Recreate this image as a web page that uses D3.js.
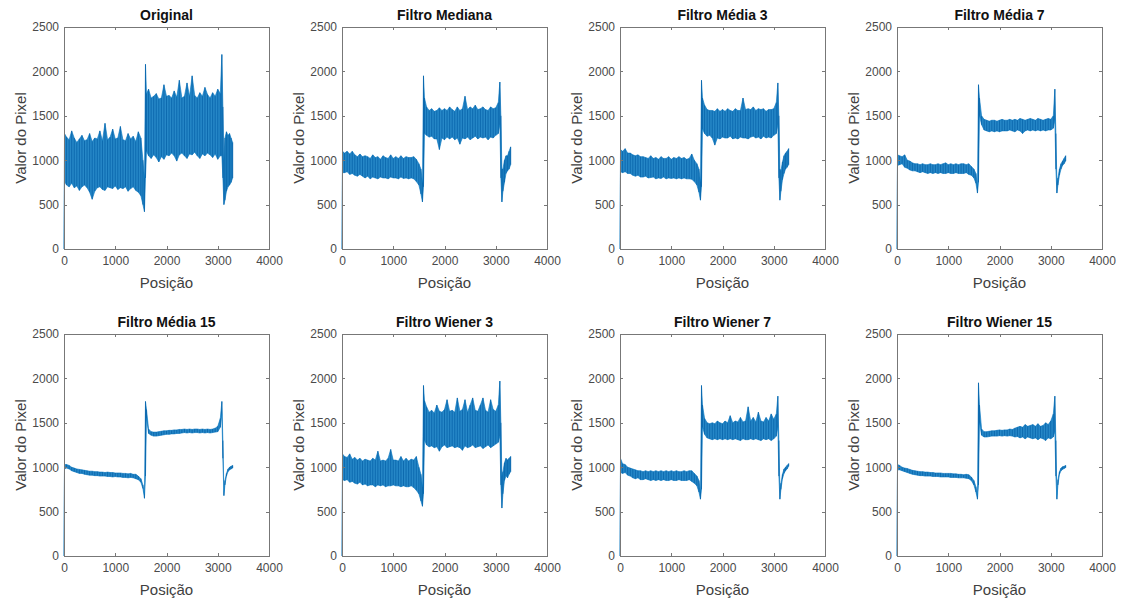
<!doctype html>
<html lang="pt">
<head>
  <meta charset="utf-8">
  <title>Filtros - Valor do Pixel</title>
  <script src="https://d3js.org/d3.v7.min.js"></script>
</head>

<style>

	body {
		margin: 0;
		background: white;
		font-family: "Liberation Sans", Arial, sans-serif;
	}

	.axis path, .axis line {
		stroke: #777;
		shape-rendering: crispEdges;
	}

	.axis text {
		fill: #4a4a4a;
		font-size: 12px;
		font-family: "Liberation Sans", Arial, sans-serif;
	}

</style>

<body>

	<svg id="chart" width="1133" height="604"></svg>

	<script>

		// posições de amostragem (eixo x), compartilhadas por todos os painéis
		var posicoes = [0, 10,
			50, 100, 150, 200, 250, 300, 350, 400, 450, 500,
			550, 600, 650, 700, 750, 800, 850, 900, 950, 1000,
			1050, 1100, 1150, 1200, 1250, 1300, 1350, 1400, 1450, 1500,
			1540, 1570, 1590, 1610,
			1650, 1700, 1750, 1800, 1850, 1900, 1950, 2000, 2050, 2100,
			2150, 2200, 2250, 2300, 2350, 2400, 2450, 2500, 2550, 2600,
			2650, 2700, 2750, 2800, 2850, 2900, 2950, 3000, 3050,
			3080, 3100, 3120, 3140, 3170, 3200, 3230, 3260, 3290];

		var titulos = ['Original', 'Filtro Mediana', 'Filtro Média 3', 'Filtro Média 7',
			'Filtro Média 15', 'Filtro Wiener 3', 'Filtro Wiener 7', 'Filtro Wiener 15'];

		var xTicks = [0, 1000, 2000, 3000, 4000];
		var yTicks = [0, 500, 1000, 1500, 2000, 2500];

		// envelope (mínimo / máximo) lido em cada posição
		var origLo = [0, 760,
			720, 700, 740, 690, 710, 660, 700, 720, 690, 640,
			560, 650, 690, 700, 670, 660, 700, 690, 680, 710,
			670, 690, 680, 700, 650, 680, 700, 660, 640, 600,
			500, 420, 800, 1100,
			1050, 1020, 1060, 1030, 980, 1040, 1010, 1060, 1050, 1080,
			1050, 990, 1060, 1080, 1050, 1020, 1070, 1060, 1090, 1050,
			1020, 1070, 1050, 1080, 1060, 1030, 1070, 1010, 1050,
			1050, 800, 500, 550, 650, 700, 720, 750, 800];
		var origHi = [0, 1300,
			1260, 1230, 1330, 1250, 1200, 1240, 1280, 1220, 1230, 1300,
			1210, 1250, 1240, 1330, 1220, 1415, 1230, 1260, 1350, 1240,
			1250, 1380, 1230, 1220, 1300, 1240, 1270, 1210, 1320, 1250,
			1000, 800, 2080, 1750,
			1800, 1700, 1720, 1750, 1690, 1700, 1850, 1720, 1730, 1700,
			1780, 1710, 1900, 1700, 1720, 1870, 1720, 1950, 1730, 1700,
			1760, 1720, 1820, 1740, 1700, 1760, 1720, 1800, 1750,
			2190, 1600, 1000, 1250, 1320, 1280, 1300, 1250, 1200];

		var medLo = [0, 860,
			860, 870, 840, 850, 830, 820, 840, 820, 800, 820,
			790, 810, 800, 790, 810, 800, 800, 790, 810, 800,
			800, 790, 810, 795, 800, 790, 800, 790, 760, 720,
			620, 530, 700, 1300,
			1280, 1260, 1270, 1240, 1240, 1120, 1250, 1230, 1260, 1240,
			1260, 1230, 1250, 1180, 1250, 1240, 1260, 1230, 1250, 1270,
			1240, 1260, 1250, 1260, 1230, 1260, 1250, 1280, 1300,
			1400, 800, 530, 650, 750, 850, 880, 900, 950];
		var medHi = [0, 1100,
			1080, 1100, 1070, 1100, 1060, 1040, 1070, 1040, 1050, 1040,
			1020, 1060, 1030, 1040, 1010, 1050, 1030, 1020, 1060, 1020,
			1040, 1020, 1050, 1020, 1040, 1030, 1030, 1040, 1010, 960,
			900, 750, 1950, 1700,
			1600, 1560, 1580, 1550, 1560, 1590, 1560, 1580, 1560, 1600,
			1570, 1550, 1600, 1560, 1580, 1720, 1570, 1600, 1580, 1620,
			1570, 1580, 1600, 1570, 1560, 1600, 1580, 1590, 1650,
			1880, 1500, 900, 900, 1000, 1050, 1050, 1100, 1150];

		var m3Lo = [0, 870,
			860, 870, 850, 850, 830, 820, 830, 810, 810, 820,
			800, 805, 810, 790, 800, 795, 810, 790, 800, 795,
			800, 790, 800, 790, 800, 790, 790, 785, 760, 720,
			640, 550, 700, 1350,
			1300, 1270, 1280, 1250, 1170, 1250, 1240, 1260, 1250, 1250,
			1270, 1240, 1250, 1240, 1260, 1250, 1250, 1240, 1260, 1270,
			1250, 1260, 1240, 1270, 1250, 1260, 1250, 1280, 1300,
			1400, 800, 550, 650, 780, 850, 900, 920, 950];
		var m3Hi = [0, 1120,
			1100, 1130, 1080, 1080, 1060, 1050, 1060, 1040, 1040, 1030,
			1020, 1050, 1020, 1030, 1010, 1040, 1020, 1020, 1040, 1010,
			1030, 1020, 1040, 1020, 1030, 1010, 1020, 1070, 1000, 960,
			900, 760, 1900, 1700,
			1620, 1570, 1560, 1560, 1550, 1580, 1550, 1570, 1550, 1580,
			1560, 1550, 1580, 1560, 1560, 1700, 1570, 1580, 1570, 1600,
			1560, 1580, 1570, 1580, 1550, 1570, 1570, 1580, 1650,
			1870, 1500, 900, 880, 980, 1050, 1080, 1100, 1130];

		var m7Lo = [0, 940,
			950, 960, 920, 910, 890, 880, 880, 870, 860, 870,
			860, 850, 860, 850, 860, 850, 860, 850, 850, 860,
			850, 850, 860, 850, 850, 850, 860, 840, 830, 800,
			740, 630, 750, 1500,
			1400, 1340, 1330, 1320, 1330, 1320, 1330, 1320, 1330, 1330,
			1330, 1340, 1330, 1320, 1340, 1330, 1300, 1330, 1340, 1330,
			1340, 1330, 1340, 1330, 1340, 1330, 1340, 1340, 1360,
			1450, 900, 630, 720, 830, 900, 940, 960, 990];
		var m7Hi = [0, 1060,
			1050, 1040, 1060, 1000, 990, 970, 960, 960, 950, 960,
			950, 950, 960, 950, 950, 960, 950, 960, 970, 950,
			960, 950, 960, 950, 960, 960, 950, 960, 930, 900,
			850, 700, 1850, 1700,
			1500, 1460, 1450, 1440, 1450, 1450, 1440, 1450, 1460, 1450,
			1450, 1460, 1450, 1460, 1450, 1470, 1460, 1450, 1460, 1470,
			1460, 1450, 1470, 1460, 1450, 1460, 1470, 1460, 1500,
			1800, 1300, 750, 800, 900, 960, 990, 1020, 1050];

		var m15Lo = [0, 980,
			990, 980, 960, 950, 940, 930, 930, 920, 915, 910,
			910, 905, 905, 900, 900, 900, 895, 895, 890, 895,
			890, 890, 885, 885, 880, 885, 880, 870, 860, 830,
			760, 650, 900, 1550,
			1380, 1360, 1350, 1350, 1355, 1360, 1365, 1370, 1370, 1375,
			1375, 1380, 1380, 1385, 1390, 1385, 1390, 1385, 1390, 1390,
			1385, 1390, 1385, 1390, 1385, 1390, 1395, 1400, 1450,
			1600, 1100, 680, 800, 900, 950, 970, 980, 990];
		var m15Hi = [0, 1030,
			1030, 1020, 1000, 990, 980, 975, 970, 965, 960, 955,
			955, 950, 950, 945, 945, 940, 945, 940, 940, 935,
			935, 935, 930, 930, 925, 930, 920, 920, 900, 870,
			800, 700, 1740, 1650,
			1430, 1400, 1395, 1395, 1400, 1405, 1410, 1410, 1415, 1415,
			1420, 1420, 1425, 1425, 1430, 1425, 1430, 1425, 1430, 1430,
			1425, 1430, 1425, 1430, 1425, 1430, 1440, 1460, 1550,
			1740, 1300, 720, 850, 930, 980, 1000, 1010, 1020];

		var w3Lo = [0, 860,
			850, 860, 830, 840, 820, 810, 830, 800, 810, 790,
			800, 800, 780, 800, 790, 800, 780, 790, 790, 800,
			790, 790, 780, 790, 780, 780, 790, 770, 740, 700,
			620, 560, 700, 1300,
			1250, 1230, 1240, 1220, 1230, 1180, 1230, 1250, 1220, 1230,
			1240, 1220, 1230, 1220, 1190, 1240, 1220, 1230, 1250, 1220,
			1230, 1240, 1210, 1230, 1250, 1220, 1240, 1260, 1280,
			1350, 800, 540, 700, 850, 900, 880, 920, 950];
		var w3Hi = [0, 1150,
			1120, 1110, 1150, 1090, 1110, 1080, 1100, 1070, 1090, 1080,
			1070, 1100, 1080, 1180, 1070, 1080, 1070, 1100, 1200, 1080,
			1080, 1070, 1120, 1070, 1100, 1070, 1090, 1080, 1120, 1000,
			920, 780, 1920, 1750,
			1680, 1620, 1640, 1610, 1700, 1630, 1620, 1650, 1760, 1630,
			1640, 1620, 1780, 1630, 1650, 1760, 1620, 1700, 1780, 1640,
			1630, 1700, 1780, 1640, 1620, 1760, 1650, 1630, 1700,
			1970, 1500, 900, 950, 1050, 1100, 1080, 1100, 1120];

		var w7Lo = [0, 940,
			930, 940, 910, 900, 880, 870, 880, 860, 860, 870,
			860, 850, 860, 850, 860, 850, 860, 850, 850, 860,
			850, 850, 860, 850, 850, 850, 860, 840, 820, 790,
			720, 640, 750, 1450,
			1370, 1330, 1320, 1310, 1320, 1310, 1320, 1310, 1320, 1310,
			1320, 1310, 1320, 1310, 1300, 1320, 1310, 1310, 1320, 1310,
			1320, 1310, 1300, 1320, 1310, 1320, 1300, 1320, 1350,
			1450, 900, 640, 750, 870, 930, 960, 980, 1010];
		var w7Hi = [0, 1100,
			1040, 1030, 1000, 990, 980, 970, 960, 960, 950, 960,
			950, 960, 950, 960, 950, 960, 950, 960, 950, 960,
			950, 960, 950, 950, 960, 950, 960, 960, 930, 900,
			850, 720, 1920, 1700,
			1550, 1500, 1490, 1500, 1490, 1520, 1500, 1490, 1520, 1500,
			1580, 1500, 1520, 1510, 1560, 1510, 1520, 1680, 1520, 1560,
			1510, 1620, 1520, 1510, 1560, 1520, 1600, 1540, 1600,
			1800, 1300, 750, 820, 920, 980, 1000, 1020, 1040];

		var w15Lo = [0, 970,
			970, 960, 950, 940, 930, 920, 915, 910, 905, 905,
			900, 900, 900, 895, 895, 895, 890, 890, 890, 890,
			885, 885, 885, 880, 880, 880, 875, 870, 850, 800,
			720, 640, 800, 1500,
			1360, 1340, 1340, 1345, 1350, 1350, 1350, 1355, 1350, 1355,
			1350, 1355, 1350, 1340, 1345, 1330, 1340, 1320, 1340, 1330,
			1320, 1330, 1310, 1330, 1320, 1300, 1330, 1320, 1340,
			1400, 900, 640, 800, 920, 960, 975, 985, 995];
		var w15Hi = [0, 1030,
			1020, 1000, 990, 985, 975, 965, 960, 955, 950, 950,
			945, 945, 940, 940, 935, 935, 935, 930, 930, 930,
			930, 925, 925, 920, 920, 915, 920, 915, 890, 850,
			780, 680, 1950, 1700,
			1430, 1400, 1400, 1405, 1410, 1410, 1415, 1420, 1415, 1420,
			1420, 1430, 1425, 1440, 1450, 1460, 1450, 1480, 1460, 1470,
			1480, 1460, 1490, 1460, 1470, 1500, 1480, 1520, 1600,
			1800, 1300, 680, 860, 950, 990, 1005, 1010, 1020];

		var mins = [origLo, medLo, m3Lo, m7Lo, m15Lo, w3Lo, w7Lo, w15Lo];
		var maxs = [origHi, medHi, m3Hi, m7Hi, m15Hi, w3Hi, w7Hi, w15Hi];

		var svg = d3.select("#chart");

		// layout of the 2x4 grid
		var plotW = 205, plotH = 222;
		var colX = [64, 342, 620, 897];
		var rowY = [27, 334];
		var azul = '#0072BD';

		var x = d3.scaleLinear().domain([0, 4000]).range([0, plotW]);
		var y = d3.scaleLinear().domain([0, 2500]).range([plotH, 0]);

		titulos.forEach(function (titulo, k) {

			var col = k % 4;
			var row = Math.floor(k / 4);

			var g = svg.append('g')
				.attr('transform', 'translate(' + colX[col] + ',' + rowY[row] + ')');

			var pts = posicoes.map(function (p, i) {
				return {x: p, lo: mins[k][i], hi: maxs[k][i]};
			});

			// faixa do sinal
			var area = d3.area()
				.x(d => x(d.x))
				.y0(d => y(d.lo))
				.y1(d => y(d.hi));

			g.append('path')
				.datum(pts)
				.attr('d', area)
				.attr('fill', azul)
				.attr('fill-opacity', 0.85)
				.attr('stroke', azul)
				.attr('stroke-width', 0.6);

			// traços verticais mínimo-máximo em cada posição
			g.selectAll('line.ruido')
				.data(pts)
				.join('line')
				.attr('class', 'ruido')
				.attr('x1', d => x(d.x))
				.attr('x2', d => x(d.x))
				.attr('y1', d => y(d.lo))
				.attr('y2', d => y(d.hi))
				.attr('stroke', '#0a66ad')
				.attr('stroke-width', 0.9);

			// eixos com marcas para dentro (caixa fechada)
			g.append('g')
				.attr('class', 'axis')
				.attr('transform', 'translate(0,' + plotH + ')')
				.call(d3.axisBottom(x).tickValues(xTicks).tickFormat(d3.format('d'))
					.tickSizeInner(-3).tickSizeOuter(0).tickPadding(7));

			g.append('g')
				.attr('class', 'axis')
				.call(d3.axisTop(x).tickValues(xTicks).tickSizeInner(-3).tickSizeOuter(0).tickFormat(''));

			g.append('g')
				.attr('class', 'axis')
				.call(d3.axisLeft(y).tickValues(yTicks).tickFormat(d3.format('d'))
					.tickSizeInner(-3).tickSizeOuter(0).tickPadding(5));

			g.append('g')
				.attr('class', 'axis')
				.attr('transform', 'translate(' + plotW + ',0)')
				.call(d3.axisRight(y).tickValues(yTicks).tickSizeInner(-3).tickSizeOuter(0).tickFormat(''));

			g.append('text')
				.attr('x', plotW / 2)
				.attr('y', -7)
				.attr('text-anchor', 'middle')
				.attr('font-size', 14)
				.attr('font-weight', 'bold')
				.attr('fill', '#111')
				.text(titulo);

			g.append('text')
				.attr('x', plotW / 2)
				.attr('y', plotH + 39)
				.attr('text-anchor', 'middle')
				.attr('font-size', 15)
				.attr('fill', '#404040')
				.text('Posição');

			g.append('text')
				.attr('transform', 'translate(-38,' + (plotH / 2) + ') rotate(-90)')
				.attr('text-anchor', 'middle')
				.attr('font-size', 15)
				.attr('fill', '#404040')
				.text('Valor do Pixel');

		});

	</script>

</body>
</html>
